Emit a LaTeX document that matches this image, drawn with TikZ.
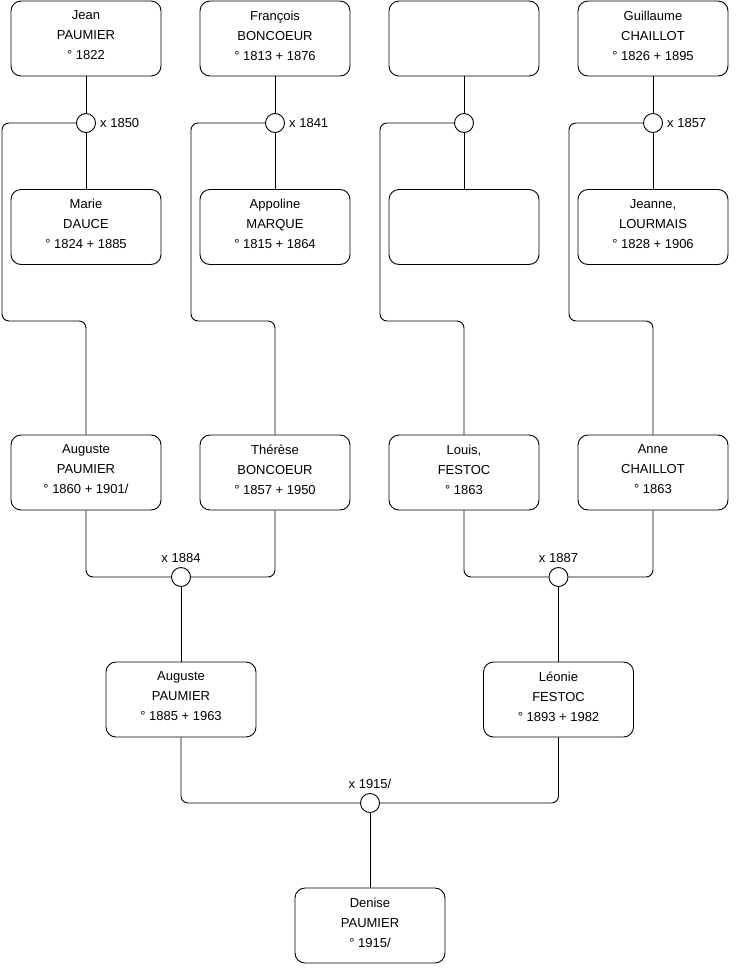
\documentclass[tikz,border=0pt]{standalone}
\usepackage{fontspec}
\setmainfont{Liberation Sans}
\begin{document}
\begin{tikzpicture}[x=1pt,y=-1pt,
  person/.style={draw, line width=0.9pt, rounded corners=10pt, minimum width=150pt, minimum height=75pt, align=center, inner sep=0pt, font=\fontsize{13}{20}\selectfont, text depth=6pt},
  union/.style={draw, circle, line width=0.9pt, minimum size=19pt, inner sep=0pt, fill=white},
  lbl/.style={font=\fontsize{13}{15}\selectfont, inner sep=0pt},
  link/.style={line width=0.9pt, rounded corners=7pt}]
\useasboundingbox (0,0) rectangle (740,975);
% row 1
\node[person] (a1) at (86,38.5) {Jean\\PAUMIER\\° 1822};
\node[person] (b1) at (275,38.5) {François\\BONCOEUR\\° 1813 + 1876};
\node[person] (c1) at (464,38.5) {};
\node[person] (d1) at (653,38.5) {Guillaume\\CHAILLOT\\° 1826 + 1895};
% row 2
\node[person] (a2) at (86,227) {Marie\\DAUCE\\° 1824 + 1885};
\node[person] (b2) at (275,227) {Appoline\\MARQUE\\° 1815 + 1864};
\node[person] (c2) at (464,227) {};
\node[person] (d2) at (653,227) {Jeanne,\\LOURMAIS\\° 1828 + 1906};
% unions row 1
\node[union] (ua) at (86,123) {};
\node[union] (ub) at (275,123) {};
\node[union] (uc) at (464,123) {};
\node[union] (ud) at (653,123) {};
\node[lbl, anchor=west] (la) at (100,123) {x 1850};
\node[lbl, anchor=west] (lb) at (289,123) {x 1841};
\node[lbl, anchor=west] (ld) at (667,123) {x 1857};
% row 3
\node[person] (a3) at (86,472.5) {Auguste\\PAUMIER\\° 1860 + 1901/};
\node[person] (b3) at (275,472.5) {Thérèse\\BONCOEUR\\° 1857 + 1950};
\node[person] (c3) at (464,472.5) {Louis,\\FESTOC\\° 1863};
\node[person] (d3) at (653,472.5) {Anne\\CHAILLOT\\° 1863};
% unions row 2
\node[union] (uab) at (181,577) {};
\node[union] (ucd) at (558.5,577) {};
\node[lbl] (lab) at (181,558) {x 1884};
\node[lbl] (lcd) at (558.5,558) {x 1887};
% row 4
\node[person] (e4) at (181,699.5) {Auguste\\PAUMIER\\° 1885 + 1963};
\node[person] (f4) at (558.5,699.5) {Léonie\\FESTOC\\° 1893 + 1982};
\node[union] (uef) at (370,803) {};
\node[lbl] (lef) at (370,784) {x 1915/};
% row 5
\node[person] (g5) at (370,925.5) {Denise\\PAUMIER\\° 1915/};
% links
\foreach \p/\u/\s in {a1/ua/a2, b1/ub/b2, c1/uc/c2, d1/ud/d2}{
  \draw[link] (\p) -- (\u) -- (\s);
}
\draw[link] (ua.west) -| (2,321) -| (a3.north);
\draw[link] (ub.west) -| (191,321) -| (b3.north);
\draw[link] (uc.west) -| (380,321) -| (c3.north);
\draw[link] (ud.west) -| (569,321) -| (d3.north);
\draw[link] (a3.south) |- (uab.west);
\draw[link] (b3.south) |- (uab.east);
\draw[link] (c3.south) |- (ucd.west);
\draw[link] (d3.south) |- (ucd.east);
\draw[link] (uab) -- (e4);
\draw[link] (ucd) -- (f4);
\draw[link] (e4.south) |- (uef.west);
\draw[link] (f4.south) |- (uef.east);
\draw[link] (uef) -- (g5);
\end{tikzpicture}
\end{document}
